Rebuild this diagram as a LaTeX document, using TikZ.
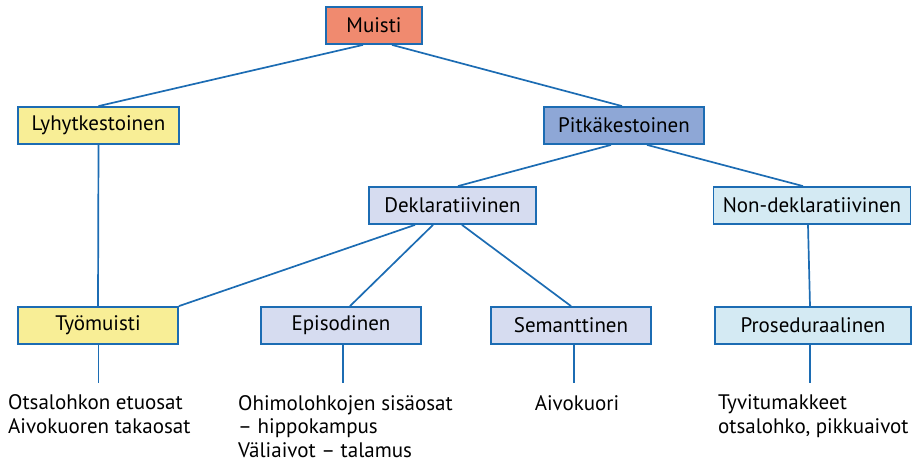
\documentclass[tikz,border=0pt]{standalone}
\usepackage{fontspec}
\setmainfont{PT Sans}
\definecolor{viiva}{HTML}{1C6CB3}
\definecolor{punainen}{HTML}{F08A6F}
\definecolor{keltainen}{HTML}{F8EE96}
\definecolor{sininen}{HTML}{8EA7D6}
\definecolor{vaalea}{HTML}{D6DCF0}
\definecolor{syaani}{HTML}{D4EAF3}
\begin{document}
\begin{tikzpicture}[x=1pt,y=-1pt,
   laatikko/.style={draw=viiva,line width=1.8pt,minimum height=37pt,inner sep=0pt,
     font=\fontsize{21}{24}\selectfont},
   yla/.style={laatikko,fill=punainen},
   lyhyt/.style={laatikko,fill=keltainen},
   pitka/.style={laatikko,fill=sininen},
   dekl/.style={laatikko,fill=vaalea},
   nondekl/.style={laatikko,fill=syaani},
   alue/.style={inner sep=0pt,align=left,font=\fontsize{21}{23.5}\selectfont},
   yhteys/.style={draw=viiva,line width=1.7pt}]
\useasboundingbox (0,0) rectangle (912,462);
% laatikot
\node[yla,minimum width=96pt] (muisti) at (374,25.5) {Muisti};
\node[lyhyt,minimum width=161pt] (lyhytk) at (98.5,125.5) {Lyhytkestoinen};
\node[pitka,minimum width=160pt] (pitkak) at (624,125.5) {Pitkäkestoinen};
\node[dekl,minimum width=167pt] (deklar) at (452.5,205.5) {Deklaratiivinen};
\node[nondekl,minimum width=197pt] (nondek) at (812,205.5) {Non-deklaratiivinen};
\node[lyhyt,minimum width=160pt] (tyomuisti) at (98,325.5) {Työmuisti};
\node[dekl,minimum width=160pt] (episod) at (341,325.5) {Episodinen};
\node[dekl,minimum width=160pt] (semant) at (571,325.5) {Semanttinen};
\node[nondekl,minimum width=196pt] (prosed) at (813,325.5) {Proseduraalinen};
% aivoalueet
\coordinate (tyo-paa) at (98.5,383);
\coordinate (epi-paa) at (343,383);
\coordinate (sem-paa) at (574,383);
\coordinate (pro-paa) at (810,383);
\node[alue,anchor=base west] (tyo-alue) at (8,433) {Otsalohkon etuosat\\Aivokuoren takaosat};
\node[alue,anchor=base west] (epi-alue) at (238,457) {Ohimolohkojen sisäosat\\– hippokampus\\Väliaivot – talamus};
\node[alue,anchor=base] (sem-alue) at (577,410) {Aivokuori};
\node[alue,anchor=base west] (pro-alue) at (718,433) {Tyvitumakkeet\\otsalohko, pikkuaivot};
% yhteydet
\draw[yhteys] ([xshift=-11pt]muisti.south) -- (lyhytk.north);
\draw[yhteys] ([xshift=18pt]muisti.south) -- ([xshift=-2pt]pitkak.north);
\draw[yhteys] ([xshift=-13pt]pitkak.south) -- ([xshift=5.5pt]deklar.north);
\draw[yhteys] ([xshift=23pt]pitkak.south) -- ([xshift=-9pt]nondek.north);
\draw[yhteys] (lyhytk.south) -- (tyomuisti.north);
\draw[yhteys] ([xshift=-37.5pt]deklar.south) -- (tyomuisti.north east);
\draw[yhteys] ([xshift=-19.5pt]deklar.south) -- ([xshift=9pt]episod.north);
\draw[yhteys] ([xshift=9.5pt]deklar.south) -- (semant.north);
\draw[yhteys] ([xshift=-4pt]nondek.south) -- ([xshift=-3pt]prosed.north);
\draw[yhteys] (tyomuisti.south -| tyo-paa) -- (tyo-paa);
\draw[yhteys] (episod.south -| epi-paa) -- (epi-paa);
\draw[yhteys] (semant.south -| sem-paa) -- (sem-paa);
\draw[yhteys] (prosed.south -| pro-paa) -- (pro-paa);
\end{tikzpicture}
\end{document}
